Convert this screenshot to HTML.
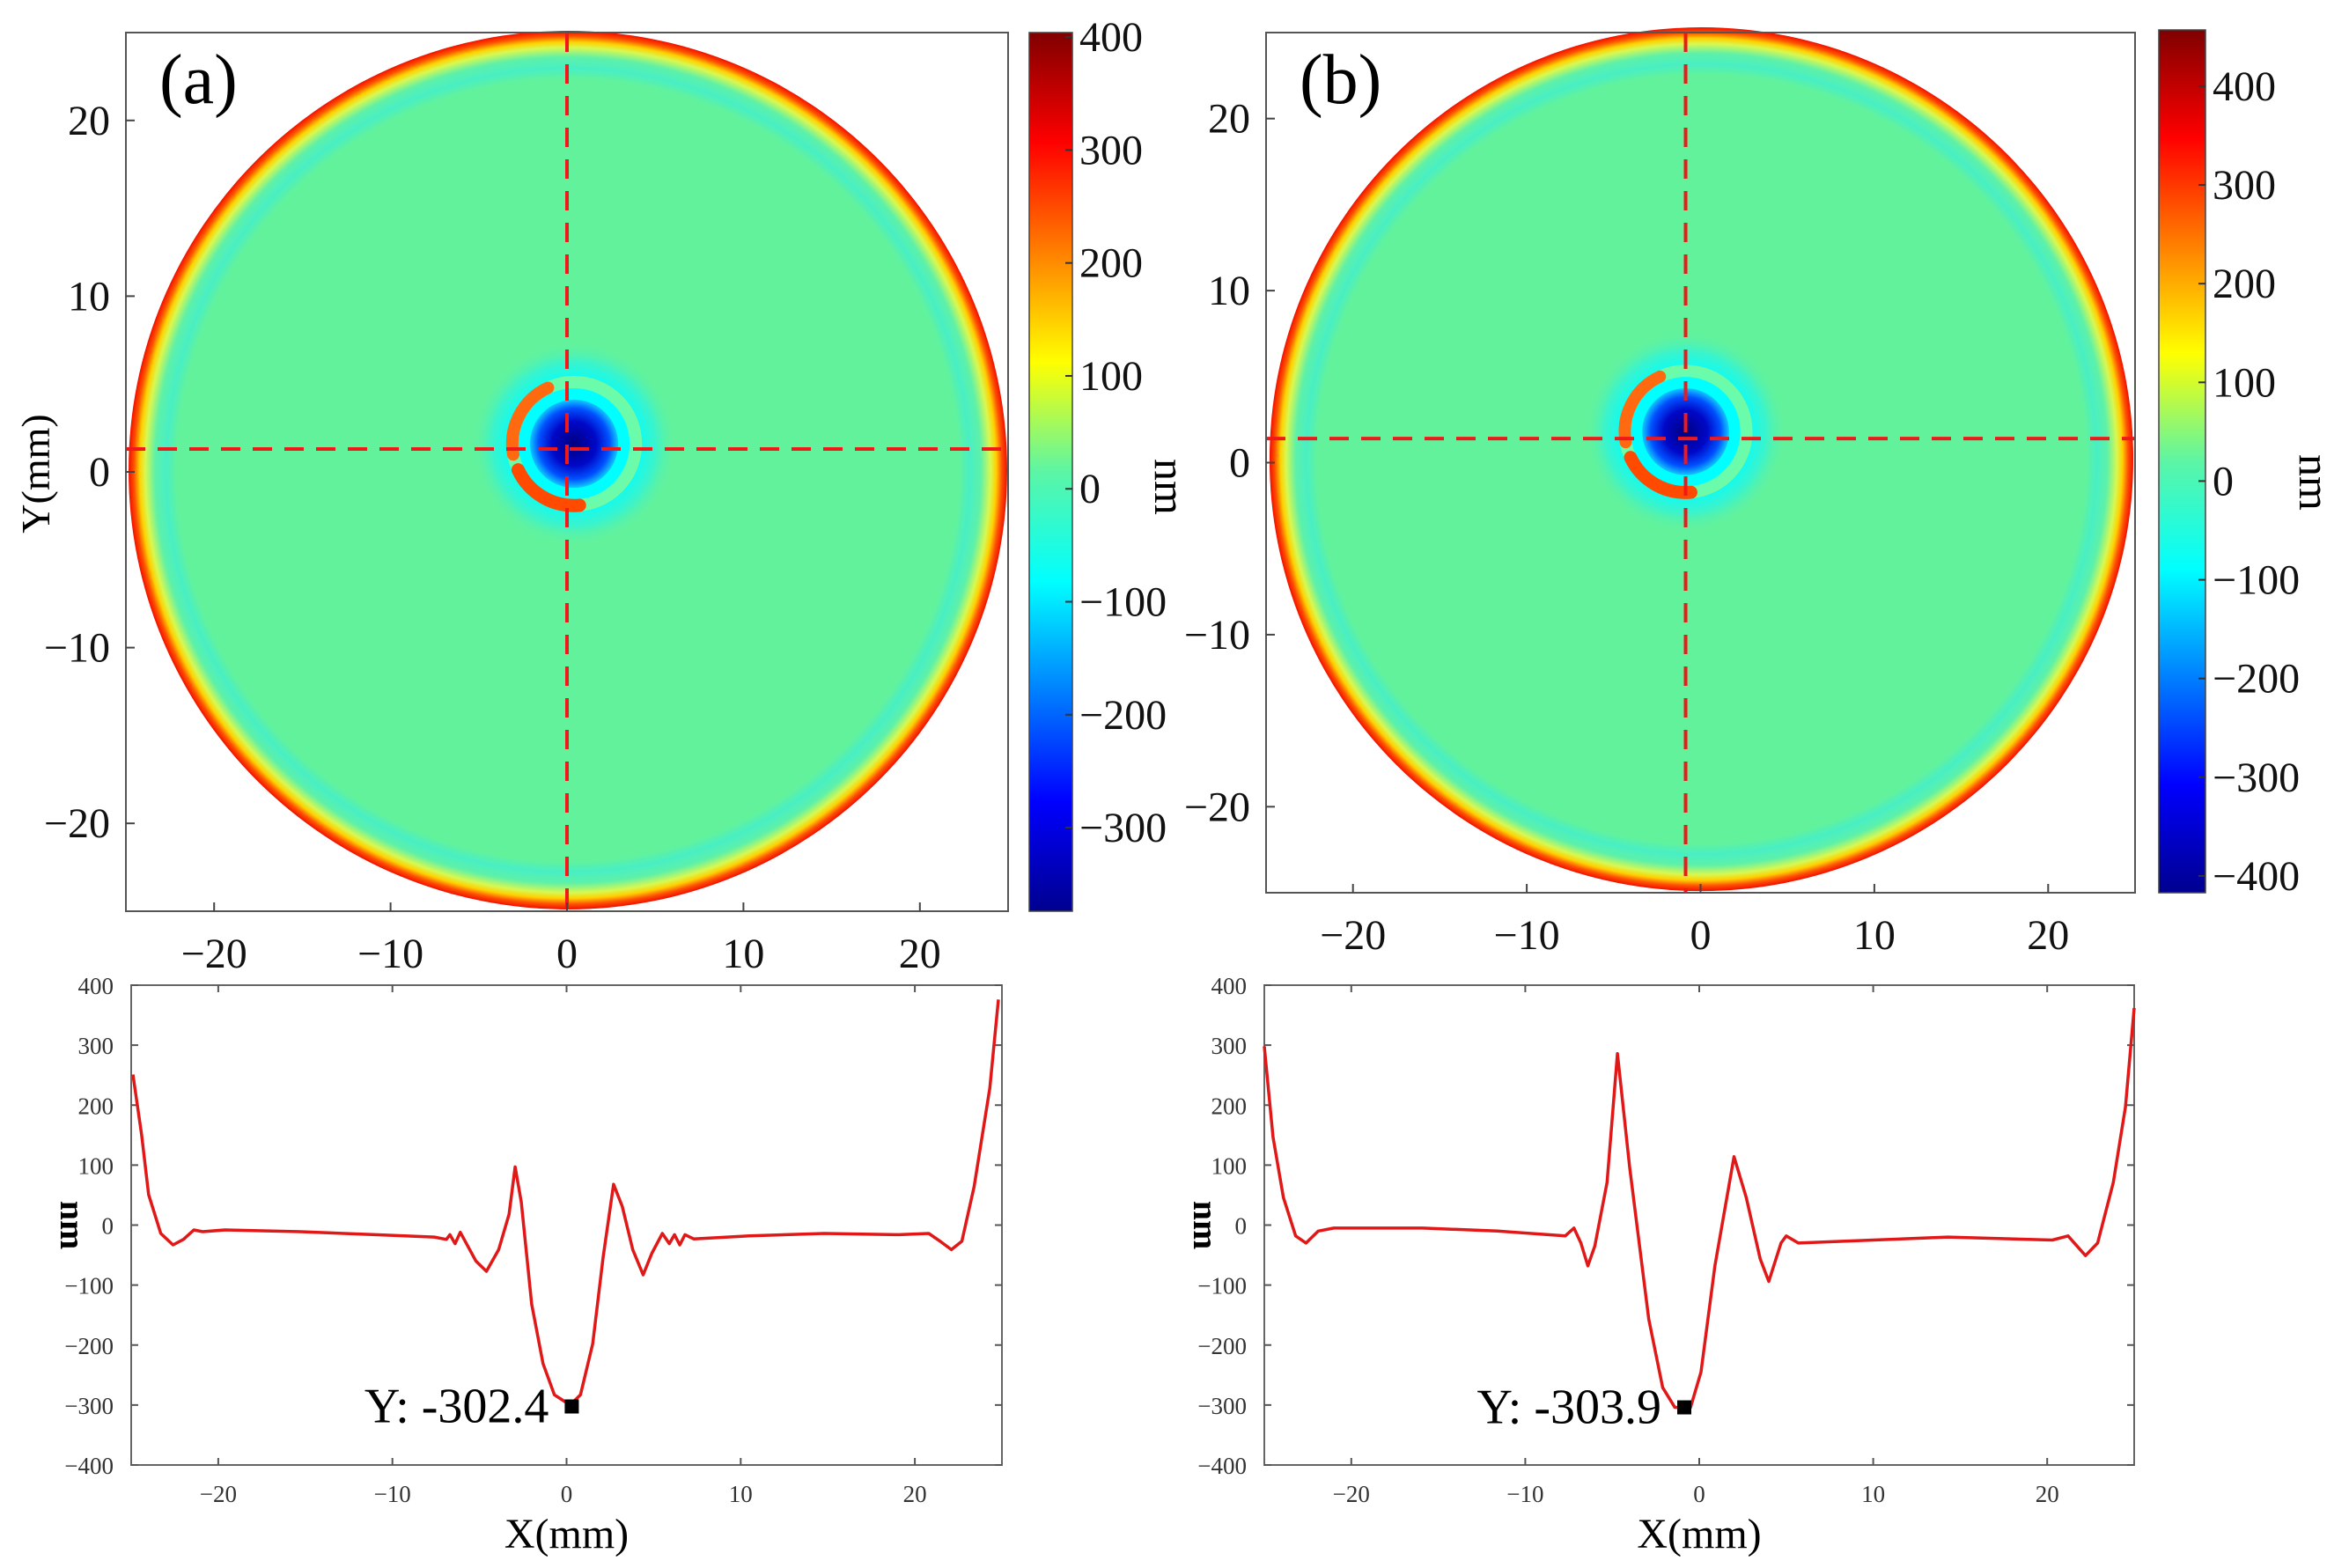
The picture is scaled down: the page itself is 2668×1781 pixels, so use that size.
<!DOCTYPE html>
<html><head><meta charset="utf-8"><style>
html,body{margin:0;padding:0;background:#fff;}
svg{display:block;font-family:"Liberation Serif",serif;}
</style></head><body>
<svg id="fig" width="2668" height="1781" viewBox="0 0 2668 1781" xmlns="http://www.w3.org/2000/svg">
<defs>
<linearGradient id="jet" x1="0" y1="1" x2="0" y2="0">
<stop offset="0" stop-color="#00008f"/><stop offset="0.125" stop-color="#0000ff"/>
<stop offset="0.375" stop-color="#00ffff"/><stop offset="0.5" stop-color="#5cf5a5"/>
<stop offset="0.625" stop-color="#ffff00"/><stop offset="0.875" stop-color="#ff0000"/>
<stop offset="1" stop-color="#800000"/></linearGradient>
<radialGradient id="disk" cx="0.5" cy="0.5" r="0.5">
<stop offset="0" stop-color="#62f29c"/><stop offset="0.89" stop-color="#62f29c"/>
<stop offset="0.915" stop-color="#48efc4"/><stop offset="0.94" stop-color="#5ef1a8"/>
<stop offset="0.962" stop-color="#d8f850"/><stop offset="0.975" stop-color="#ffd000"/>
<stop offset="0.988" stop-color="#ff5000"/><stop offset="1" stop-color="#f01000"/></radialGradient>
<radialGradient id="halo" cx="0.5" cy="0.5" r="0.5">
<stop offset="0" stop-color="#00ffff"/><stop offset="0.6" stop-color="#00ffff"/>
<stop offset="0.8" stop-color="#30f4d8" stop-opacity="0.8"/><stop offset="1" stop-color="#62f29c" stop-opacity="0"/></radialGradient>
<radialGradient id="blue" cx="0.5" cy="0.5" r="0.5">
<stop offset="0" stop-color="#000080"/><stop offset="0.5" stop-color="#0008c8"/>
<stop offset="0.8" stop-color="#0050ff"/><stop offset="1" stop-color="#10c8ff"/></radialGradient>
</defs>
<g id="root"></g>
</svg>
<script>
// profile data (a)
const profAX=[-24.9,-24.4,-24,-23.3,-22.6,-22,-21.4,-20.9,-19.6,-15.3,-11,-7.6,-6.9,-6.7,-6.4,-6.1,-5.2,-4.6,-3.9,-3.3,-2.95,-2.6,-2.0,-1.35,-0.7,0.2,0.8,1.5,2.1,2.7,3.2,3.8,4.4,4.9,5.5,5.9,6.2,6.5,6.8,7.3,10.5,14.8,19.1,20.8,21.5,22.1,22.7,23.4,24.3,24.8];
const profAY=[251,150,51,-14,-33,-24,-8,-11,-8,-11,-16,-20,-24,-16,-31,-12,-60,-77,-41,18,97,38,-132,-231,-283,-300,-283,-198,-54,68,31,-41,-83,-47,-14,-31,-16,-33,-16,-23,-18,-14,-16,-14,-28,-41,-27,64,228,376];
// profile data (b)
const profBX=[-25,-24.5,-23.9,-23.2,-22.6,-21.9,-21,-15.9,-11.6,-7.7,-7.2,-6.8,-6.4,-6,-5.3,-4.7,-4,-2.9,-2.1,-1.4,-0.5,0.1,0.9,2,2.7,3.5,4,4.7,5,5.7,10,14.3,20.3,21.2,22.2,22.9,23.8,24.5,25];
const profBY=[298,147,46,-18,-30,-10,-5,-5,-10,-18,-5,-30,-68,-35,71,286,96,-157,-271,-304,-304,-245,-68,114,46,-56,-94,-30,-18,-30,-25,-20,-25,-18,-51,-30,71,197,362];
const mapTicks=[-20,-10,0,10,20];
const cbTicksA=[400,300,200,100,0,-100,-200,-300];
const cbTicksB=[400,300,200,100,0,-100,-200,-300,-400];
const profYTicks=[400,300,200,100,0,-100,-200,-300,-400];
const minA={x:0.3,y:-302.4,label:"Y: -302.4"};
const minB={x:-0.86,y:-303.9,label:"Y: -303.9"};

const NS="http://www.w3.org/2000/svg";
const root=document.getElementById('root');
function el(tag,attrs,parent,text){const e=document.createElementNS(NS,tag);for(const k in attrs)e.setAttribute(k,attrs[k]);if(text!==undefined)e.textContent=text;(parent||root).appendChild(e);return e;}
function fmt(v){return v<0?'\u2212'+(-v):''+v;}

function mapPanel(P){
  const g=el('g',{});
  
  
  const sx=m=>P.x0+(m+25)/50*(P.x1-P.x0), sy=m=>P.y0+(25-m)/50*(P.y1-P.y0);
  const ppm=(P.x1-P.x0)/50;
  const d=el('circle',{cx:sx(P.cx),cy:sy(P.cy),r:P.r*ppm,fill:'url(#disk)'},g);
  
  const h=el('circle',{cx:sx(P.bx),cy:sy(P.by),r:5.8*ppm,fill:'url(#halo)'},g);
  
  const bx=sx(P.bx),by=sy(P.by),ar=3.5*ppm;
  const yr=el('circle',{cx:bx,cy:by,r:ar,fill:'none',stroke:'#e8f848','stroke-width':0.7*ppm,'stroke-opacity':0.45},g);
  
  function arc(a0,a1,col,w){const r=a=>[bx+ar*Math.cos(a*Math.PI/180),by-ar*Math.sin(a*Math.PI/180)];const p0=r(a0),p1=r(a1);
    const a=el('path',{d:`M${p0[0]},${p0[1]} A${ar},${ar} 0 0 0 ${p1[0]},${p1[1]}`,fill:'none',stroke:col,'stroke-width':w,'stroke-linecap':'round'},g);
    }
  arc(115,190,'#ff6a10',0.7*ppm);arc(205,275,'#ff4a00',0.75*ppm);
  const b=el('circle',{cx:bx,cy:by,r:2.5*ppm,fill:'url(#blue)'},g);
  
  const v=el('line',{x1:sx(P.vx),y1:P.y0,x2:sx(P.vx),y2:P.y1,stroke:'#f01818','stroke-width':4,'stroke-dasharray':'22 14'},g);
  
  const hl=el('line',{x1:P.x0,y1:sy(P.hy),x2:P.x1,y2:sy(P.hy),stroke:'#f01818','stroke-width':4,'stroke-dasharray':'22 14'},g);
  
  const f=el('rect',{x:P.x0,y:P.y0,width:P.x1-P.x0,height:P.y1-P.y0,fill:'none',stroke:'#555','stroke-width':2},g);
  
  mapTicks.forEach(t=>{
    el('line',{x1:sx(t),y1:P.y1,x2:sx(t),y2:P.y1-10,stroke:'#444','stroke-width':2},g);
    el('line',{x1:P.x0,y1:sy(t),x2:P.x0+10,y2:sy(t),stroke:'#444','stroke-width':2},g);
    const tx=el('text',{x:sx(t),y:P.y1+64,'font-size':48,'text-anchor':'middle',fill:'#111'},g,fmt(t));
    
    const ty=el('text',{x:P.x0-18,y:sy(t)+16,'font-size':48,'text-anchor':'end',fill:'#111'},g,fmt(t));
    
  });
  const lab=el('text',{x:P.x0+38,y:P.y0+80,'font-size':80,fill:'#000'},g,P.tag);
  
  const cb=P.cb;
  const r=el('rect',{x:cb.x0,y:cb.y0,width:cb.x1-cb.x0,height:cb.y1-cb.y0,fill:'url(#jet)',stroke:'#444','stroke-width':1.5},g);
  
  const cy=v=>cb.y1-(v-cb.min)/(cb.max-cb.min)*(cb.y1-cb.y0);
  cb.ticks.forEach(t=>{
    el('line',{x1:cb.x1,y1:cy(t),x2:cb.x1-8,y2:cy(t),stroke:'#333','stroke-width':2},g);
    const tt=el('text',{x:cb.x1+8,y:cy(t)+16,'font-size':48,fill:'#111'},g,fmt(t));
    
  });
  const nm=el('text',{x:cb.nmx,y:cb.nmy,'font-size':50,'text-anchor':'middle',transform:`rotate(90 ${cb.nmx} ${cb.nmy})`,fill:'#000'},g,'nm');
  
}

function profPanel(P){
  const g=el('g',{});
  
  
  const sx=m=>P.x0+(m+25)/50*(P.x1-P.x0), sy=v=>P.y0+(400-v)/800*(P.y1-P.y0);
  const f=el('rect',{x:P.x0,y:P.y0,width:P.x1-P.x0,height:P.y1-P.y0,fill:'none',stroke:'#666','stroke-width':2},g);
  
  mapTicks.forEach(t=>{
    el('line',{x1:sx(t),y1:P.y1,x2:sx(t),y2:P.y1-8,stroke:'#555','stroke-width':2},g);
    el('line',{x1:sx(t),y1:P.y0,x2:sx(t),y2:P.y0+8,stroke:'#555','stroke-width':2},g);
    const tx=el('text',{x:sx(t),y:P.y1+42,'font-size':27,'text-anchor':'middle',fill:'#333'},g,fmt(t));
    
  });
  profYTicks.forEach(t=>{
    el('line',{x1:P.x0,y1:sy(t),x2:P.x0+8,y2:sy(t),stroke:'#555','stroke-width':2},g);
    el('line',{x1:P.x1,y1:sy(t),x2:P.x1-8,y2:sy(t),stroke:'#555','stroke-width':2},g);
    const ty=el('text',{x:P.x0-20,y:sy(t)+10,'font-size':27,'text-anchor':'end',fill:'#333'},g,fmt(t));
    
  });
  const pts=P.xs.map((x,i)=>sx(x).toFixed(1)+','+sy(P.ys[i]).toFixed(1)).join(' ');
  const line=el('polyline',{points:pts,fill:'none',stroke:'#e01818','stroke-width':3.5,'stroke-linejoin':'round'},g);
  
  const mk=el('rect',{x:sx(P.min.x)-8,y:sy(P.min.y)-8,width:16,height:16,fill:'#000'},g);
  
  const ml=el('text',{x:sx(P.min.x)-26,y:sy(P.min.y)+18,'font-size':56,'text-anchor':'end',fill:'#000'},g,P.min.label);
  
  const xl=el('text',{x:sx(0),y:1758,'font-size':48,'text-anchor':'middle',fill:'#000'},g,'X(mm)');
  
  const yx=P.x0-80,yy=sy(0);
  const yl=el('text',{x:yx,y:yy,'font-size':40,'font-weight':'bold','text-anchor':'middle',transform:`rotate(90 ${yx} ${yy})`,fill:'#000'},g,'nm');
  
}

mapPanel({name:'map-a',tag:'(a)',x0:143,x1:1145,y0:37,y1:1035,cx:0.05,cy:0.1,r:24.9,bx:0.4,by:1.6,vx:0,hy:1.3,
  cb:{x0:1169,x1:1218,y0:37,y1:1035,min:-374,max:404,ticks:cbTicksA,nmx:1312,nmy:553}});
mapPanel({name:'map-b',tag:'(b)',x0:1438,x1:2425,y0:37,y1:1014,cx:0.05,cy:0.2,r:24.85,bx:-0.86,by:1.8,vx:-0.86,hy:1.4,
  cb:{x0:2452,x1:2505,y0:34,y1:1014,min:-417,max:457,ticks:cbTicksB,nmx:2612,nmy:548}});
const yt=el('text',{x:56,y:538,'font-size':46,'text-anchor':'middle',transform:'rotate(-90 56 538)',fill:'#000'},root,'Y(mm)');


profPanel({name:'profile-a',x0:149,x1:1138,y0:1119,y1:1664,xs:profAX,ys:profAY,min:minA});
profPanel({name:'profile-b',x0:1436,x1:2424,y0:1119,y1:1664,xs:profBX,ys:profBY,min:minB});
</script>
</body></html>
